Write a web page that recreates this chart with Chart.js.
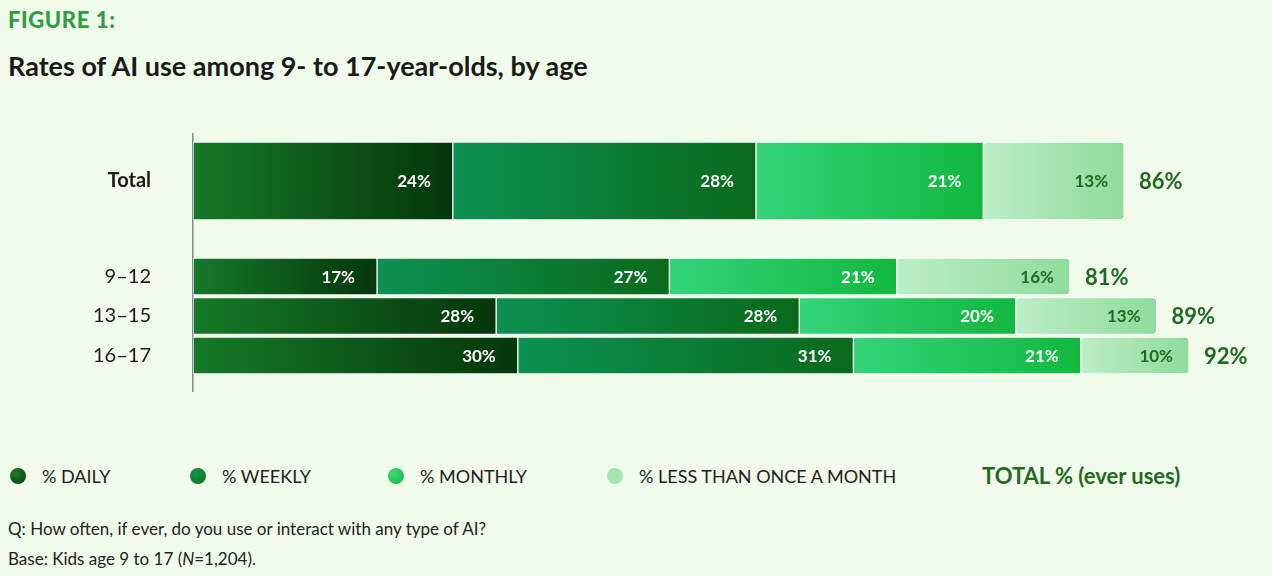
<!DOCTYPE html>
<html><head><meta charset="utf-8">
<script src="https://cdn.jsdelivr.net/npm/chart.js@4"></script>
<style>
body{margin:0;width:1272px;height:576px;background:#f1fbec;font-family:Lato,sans-serif;position:relative;overflow:hidden}
#fig{position:absolute;left:8px;top:6px;color:#2e9e3e;font-weight:900;font-size:22px;letter-spacing:0.6px}
#title{position:absolute;left:8px;top:49px;color:#1a1a1a;font-weight:700;font-size:27px}
#wrap{position:absolute;left:0;top:80px;width:1272px;height:365px}
#legend{position:absolute;top:465px;left:10px;font-size:18px;color:#222;width:1262px}
.li{position:absolute;top:0;display:flex;align-items:center;white-space:nowrap}
.dot{width:16px;height:16px;border-radius:50%;margin-right:16px}
#foot{position:absolute;left:8px;top:514px;font-size:17px;color:#222;line-height:30px}
</style></head><body>
<div id="fig">FIGURE 1:</div>
<div id="title">Rates of AI use among 9- to 17-year-olds, by age</div>
<div id="wrap"><canvas id="c"></canvas></div>
<div id="legend">
<div class="li" style="left:0"><span class="dot" style="background:radial-gradient(circle at 35% 35%,#1a7a2a,#053d0c)"></span>% DAILY</div>
<div class="li" style="left:180px"><span class="dot" style="background:radial-gradient(circle at 35% 35%,#0f9a4a,#0a6e1e)"></span>% WEEKLY</div>
<div class="li" style="left:378px"><span class="dot" style="background:radial-gradient(circle at 35% 35%,#3fd77c,#10b83c)"></span>% MONTHLY</div>
<div class="li" style="left:597px"><span class="dot" style="background:#a3e6b0"></span>% LESS THAN ONCE A MONTH</div>
<div class="li" style="left:972px;top:-3px;font-weight:700;font-size:22px;color:#1e6b1e">TOTAL % (ever uses)</div>
</div>
<div id="foot">Q: How often, if ever, do you use or interact with any type of AI?<br>Base: Kids age 9 to 17 (<i>N</i>=1,204).</div>
<script>
const categories=['Total','9–12','13–15','16–17'];
const positions=[0,2.42,3.42,4.42];
const daily=[24,17,28,30];
const weekly=[28,27,28,31];
const monthly=[21,21,20,21];
const lessThanMonthly=[13,16,13,10];
const totals=[86,81,89,92];
const seriesNames=['% DAILY','% WEEKLY','% MONTHLY','% LESS THAN ONCE A MONTH'];
const series=[daily,weekly,monthly,lessThanMonthly];
const grads=[['#167a27','#04360b'],['#0b9152','#0a6a1b'],['#34d47a','#12b83e'],['#bdeec6','#8edc9c']];

function bg(si){return ctx=>{
  const ch=ctx.chart,x=ch.scales.x;if(!x||ctx.dataIndex===undefined)return grads[si][0];
  const idx=ctx.dataset.rowIdx[ctx.dataIndex];
  let s=0;for(let k=0;k<si;k++)s+=series[k][idx];
  const x0=x.getPixelForValue(s),x1=x.getPixelForValue(s+series[si][idx]);
  if(!isFinite(x0)||!isFinite(x1))return grads[si][0];
  const g=ch.ctx.createLinearGradient(x0,0,x1,0);
  g.addColorStop(0,grads[si][0]);g.addColorStop(1,grads[si][1]);return g;};}

const datasets=[];
[[0],[1,2,3]].forEach((rows,gi)=>{
  series.forEach((arr,si)=>{
    datasets.push({label:seriesNames[si],rowIdx:rows,si:si,
      data:rows.map(r=>({y:positions[r],x:arr[r]})),
      backgroundColor:bg(si),borderColor:'#ffffff',borderWidth:1,borderRadius:4,borderSkipped:false,
      barThickness:gi===0?78:37,stack:'s'});
  });
});

const labelsPlugin={id:'lbl',afterDatasetsDraw(ch){
  const c=ch.ctx;c.save();c.textBaseline='middle';
  ch.data.datasets.forEach((ds,di)=>{
    ch.getDatasetMeta(di).data.forEach((el,i)=>{
      const r=ds.rowIdx[i];const v=series[ds.si][r];
      c.font='700 17px Lato';c.textAlign='right';
      c.fillStyle=ds.si===3?'#1e6b1e':'#ffffff';
      c.fillText(v+'%',el.x-(ds.si===3?16:22),el.y+1);
      if(ds.si===3){c.font='700 22px Lato';c.textAlign='left';c.fillStyle='#1e6b1e';
        c.fillText(totals[r]+'%',el.x+15,el.y+1);}
    });
  });
  c.restore();}};

new Chart(document.getElementById('c'),{type:'bar',
 data:{datasets},
 options:{indexAxis:'y',responsive:true,maintainAspectRatio:false,animation:false,
  layout:{padding:{top:10,bottom:10,right:18,left:0}},
  plugins:{legend:{display:false},tooltip:{enabled:false}},
  scales:{
   x:{type:'linear',stacked:true,min:0,max:98,display:false},
   y:{type:'linear',stacked:true,reverse:true,min:-1.19,max:5.32,offset:false,
      afterFit:s=>{s.width=193;},
      afterBuildTicks:s=>{s.ticks=positions.map(v=>({value:v}));},
      ticks:{padding:42,color:'#1a1a1a',
        font:c=>({family:'Lato',size:20,weight:(c.tick&&c.tick.value===0)?'bold':'normal'}),
        callback:(v)=>{const i=positions.indexOf(v);return i>=0?categories[i]:'';}},
      grid:{display:false,drawTicks:false},border:{display:true,color:'#888',width:1.5}}
  }},
 plugins:[labelsPlugin]});
</script>
</body></html>
